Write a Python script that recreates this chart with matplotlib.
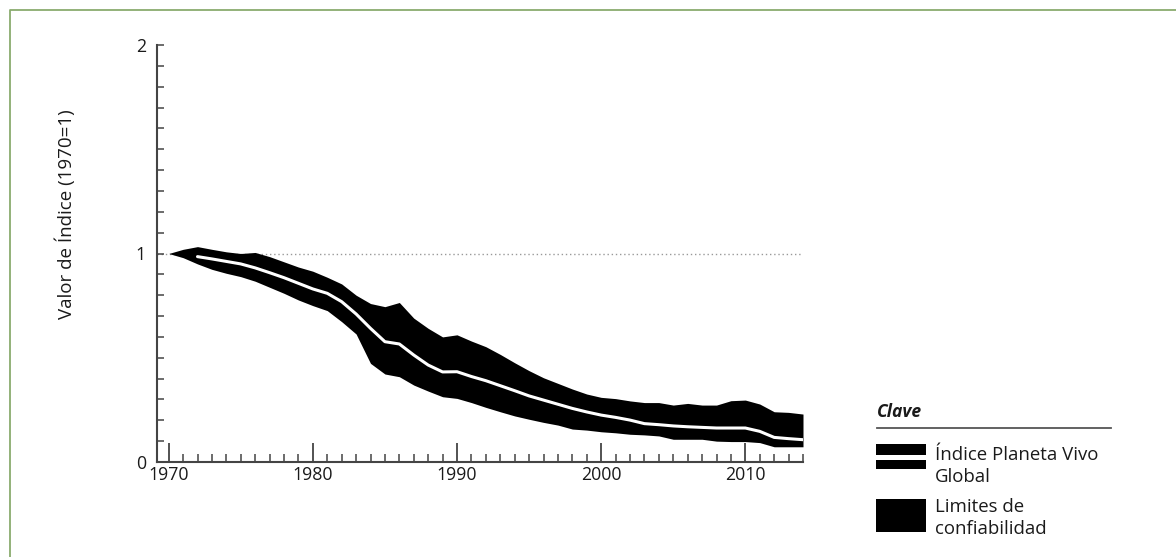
import matplotlib
matplotlib.use("Agg")
import matplotlib.pyplot as plt
from matplotlib.ticker import MultipleLocator, FixedLocator
from matplotlib.patches import Rectangle
from matplotlib.lines import Line2D

plt.rcParams['font.family'] = ['Open Sans', 'DejaVu Sans']

# datos (1970-2014)
years = list(range(1970, 2015))
upper = [1.00, 1.02, 1.033, 1.02, 1.008, 1.00, 1.005, 0.985, 0.96, 0.935,
         0.915, 0.886, 0.854, 0.80, 0.76, 0.745, 0.765, 0.69, 0.641, 0.60,
         0.61, 0.58, 0.553, 0.516, 0.476, 0.438, 0.404, 0.377, 0.35, 0.326,
         0.31, 0.304, 0.293, 0.285, 0.285, 0.273, 0.281, 0.273, 0.273, 0.294,
         0.297, 0.278, 0.241, 0.238, 0.23]
index = [1.00, 0.99, 0.985, 0.974, 0.962, 0.95, 0.931, 0.908, 0.884, 0.857,
         0.83, 0.809, 0.769, 0.71, 0.641, 0.577, 0.566, 0.513, 0.465, 0.432,
         0.433, 0.41, 0.39, 0.366, 0.342, 0.317, 0.297, 0.277, 0.257, 0.24,
         0.225, 0.214, 0.201, 0.184, 0.179, 0.173, 0.169, 0.166, 0.163, 0.163,
         0.163, 0.147, 0.118, 0.112, 0.107]
lower = [1.00, 0.98, 0.95, 0.924, 0.905, 0.889, 0.867, 0.838, 0.809, 0.777,
         0.75, 0.726, 0.673, 0.614, 0.473, 0.422, 0.409, 0.369, 0.34, 0.313,
         0.305, 0.285, 0.262, 0.241, 0.221, 0.205, 0.19, 0.177, 0.158, 0.153,
         0.145, 0.14, 0.133, 0.13, 0.125, 0.109, 0.109, 0.109, 0.10, 0.098,
         0.098, 0.093, 0.073, 0.073, 0.073]

y_label = "Valor de Índice (1970=1)"
legend_title = "Clave"
legend_labels = [["Índice Planeta Vivo", "Global"], ["Limites de", "confiabilidad"]]

W, H = 1176, 557
fig = plt.figure(figsize=(W / 100, H / 100), dpi=100)

# capa de fondo en pixeles: marco verde y clave
lax = fig.add_axes([0, 0, 1, 1])
lax.set_xlim(0, W)
lax.set_ylim(H, 0)
lax.axis('off')
green = '#8aab6e'
lax.add_line(Line2D([9.5, 9.5, W], [H, 9.5, 9.5], color=green, lw=1.3))

txt = '#1a1a1a'
lax.text(877, 417, legend_title, fontsize=12.6, fontweight='bold', fontstyle='italic',
         color=txt, va='baseline', ha='left')
lax.add_line(Line2D([877, 1111], [428, 428], color='#555555', lw=1.3))
# simbolo del indice: banda negra con linea blanca
lax.add_patch(Rectangle((876, 444), 50, 25, facecolor='black', edgecolor='none'))
lax.add_line(Line2D([876, 926], [456.5, 456.5], color='white', lw=3.6))
lax.add_patch(Rectangle((876, 499), 50, 33, facecolor='black', edgecolor='none'))
for lines, y0 in zip(legend_labels, [460.5, 511.5]):
    for k, s in enumerate(lines):
        lax.text(935, y0 + k * 22, s, fontsize=13.4, color=txt, va='baseline', ha='left')

# grafico principal
ax = fig.add_axes([157 / W, 95 / H, 646 / W, 417 / H])
ax.patch.set_alpha(0)
ax.fill_between(years, lower, upper, color='black', lw=0, zorder=2)
ax.plot(years[2:], index[2:], color='white', lw=2.2, solid_capstyle='round', zorder=3)
ax.axhline(1, color='#999999', lw=1, ls=(0, (1, 2)), zorder=1)

ax.set_xlim(1969.19, 2014.0)
ax.set_ylim(0, 2)
for s in ['top', 'right']:
    ax.spines[s].set_visible(False)
for s in ['left', 'bottom']:
    ax.spines[s].set_color('#444444')
    ax.spines[s].set_linewidth(1.5)

ax.xaxis.set_major_locator(FixedLocator([1970, 1980, 1990, 2000, 2010]))
ax.xaxis.set_minor_locator(MultipleLocator(1))
ax.set_yticks([0, 1, 2])
ax.yaxis.set_minor_locator(MultipleLocator(0.1))
ax.tick_params(axis='x', which='major', direction='in', length=14, width=1.3,
               color='#444444', labelsize=12.8, pad=3, labelcolor=txt)
ax.tick_params(axis='x', which='minor', direction='in', length=6, width=1.1, color='#444444')
ax.tick_params(axis='y', which='both', direction='in', length=5, width=1.1,
               color='#444444', labelsize=12.8, pad=8, labelcolor=txt)

ax.set_ylabel(y_label, fontsize=13.5, color=txt)
ax.yaxis.set_label_coords(-0.125, 0.595)

fig.savefig('out.png', dpi=100)
